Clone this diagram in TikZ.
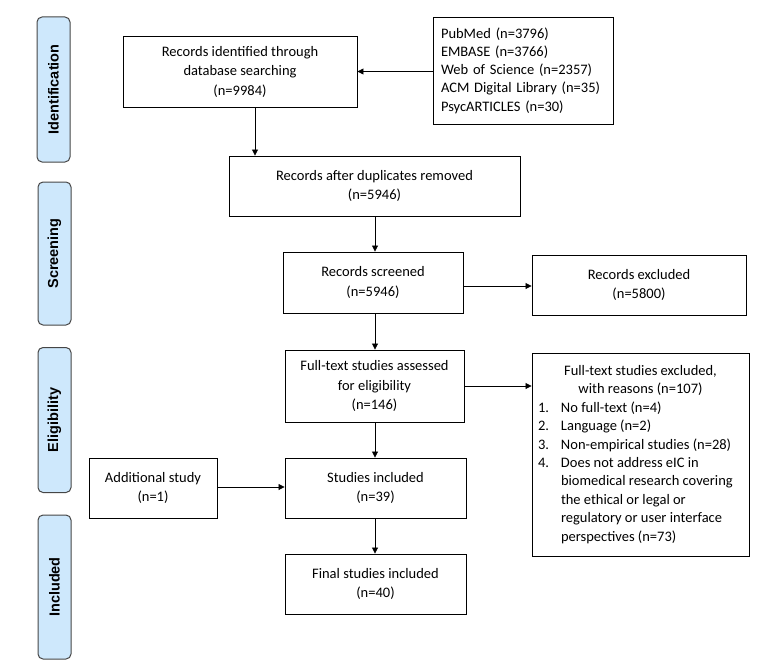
\documentclass[tikz,border=0pt]{standalone}
\usepackage{fontspec}
\setmainfont{Carlito}
\newfontfamily\labelfont{Liberation Sans}
\usetikzlibrary{arrows.meta,positioning}
\definecolor{lblfill}{RGB}{206,232,252}
\definecolor{lbldraw}{RGB}{70,70,70}
\tikzset{
  box/.style={draw=black, line width=0.9pt, align=center, inner sep=0pt,
    font=\fontsize{14.5}{19.5}\selectfont},
  phase/.style={draw=lbldraw, fill=lblfill, line width=1pt, rounded corners=5pt,
    minimum width=33pt, inner sep=0pt},
  phasetext/.style={rotate=90, font=\labelfont\bfseries\fontsize{14.5}{16}\selectfont},
  arr/.style={draw=black, line width=0.8pt, -{Triangle[length=6pt,width=6pt]}}
}
\begin{document}
\begin{tikzpicture}[x=1pt,y=-1pt]
\useasboundingbox (0,0) rectangle (762,669);
% phase labels
\node[phase, minimum height=145pt] (lid) at (53.5,89.5) {};
\node[phasetext] at (lid.center) {Identification};
\node[phase, minimum height=143pt] (lsc) at (54.5,253.5) {};
\node[phasetext] at (lsc.center) {Screening};
\node[phase, minimum height=145pt] (lel) at (54.5,420) {};
\node[phasetext] at (lel.center) {Eligibility};
\node[phase, minimum height=144pt] (lin) at (54.5,587) {};
\node[phasetext] at (lin.center) {Included};
% boxes
\node[box, minimum width=234pt, minimum height=71pt] (ident) at (240,71.5)
  {Records identified through\\database searching\\(n=9984)};
\node[box, minimum width=180pt, minimum height=107pt, align=left,
  font=\fontsize{14.5}{18.3}\selectfont, text width=164pt, inner xsep=8pt] (src) at (523,70.5)
  {PubMed (n=3796)\\EMBASE (n=3766)\\Web of Science (n=2357)\\ACM Digital Library (n=35)\\PsycARTICLES (n=30)};
\node[box, minimum width=291pt, minimum height=60pt] (dup) at (374.5,186)
  {Records after duplicates removed\\(n=5946)};
\node[box, minimum width=180pt, minimum height=61pt] (scr) at (373,282.5)
  {Records screened\\(n=5946)};
\node[box, minimum width=214pt, minimum height=60pt] (exc) at (639,285)
  {Records excluded\\(n=5800)};
\node[box, minimum width=179pt, minimum height=72pt] (full) at (374.5,386)
  {Full-text studies assessed\\for eligibility\\(n=146)};
\node[box, minimum width=217pt, minimum height=203pt, inner xsep=6pt] (fexc) at (640.5,454.5)
  {\begin{minipage}{205pt}\fontsize{14.5}{18.4}\selectfont
   \centering Full-text studies excluded,\\with reasons (n=107)\par
   \raggedright
   \makebox[23pt][l]{1.}No full-text (n=4)\\
   \makebox[23pt][l]{2.}Language (n=2)\\
   \makebox[23pt][l]{3.}Non-empirical studies (n=28)\\
   \makebox[23pt][l]{4.}Does not address eIC in\\
   \hspace*{23pt}biomedical research covering\\
   \hspace*{23pt}the ethical or legal or\\
   \hspace*{23pt}regulatory or user interface\\
   \hspace*{23pt}perspectives (n=73)\par
   \end{minipage}};
\node[box, minimum width=181pt, minimum height=60pt] (inc) at (375.5,488)
  {Studies included\\(n=39)};
\node[box, minimum width=128pt, minimum height=60pt] (add) at (153,488)
  {Additional study\\(n=1)};
\node[box, minimum width=181pt, minimum height=60pt] (fin) at (375.5,584)
  {Final studies included\\(n=40)};
% connector guides
\coordinate (cx1) at (255,0);
\coordinate (cx2) at (375,0);
\coordinate (cy1) at (0,286);
\coordinate (cy2) at (0,487);
% connectors
\draw[arr] (src.west |- ident.east) -- (ident.east);
\draw[arr] (ident.south -| cx1) -- (dup.north -| cx1);
\draw[arr] (dup.south -| cx2) -- (scr.north -| cx2);
\draw[arr] (scr.east |- cy1) -- (exc.west |- cy1);
\draw[arr] (scr.south -| cx2) -- (full.north -| cx2);
\draw[arr] (full.east) -- (fexc.west |- full.east);
\draw[arr] (full.south -| cx2) -- (inc.north -| cx2);
\draw[arr] (add.east |- cy2) -- (inc.west |- cy2);
\draw[arr] (inc.south -| cx2) -- (fin.north -| cx2);
\end{tikzpicture}
\end{document}
